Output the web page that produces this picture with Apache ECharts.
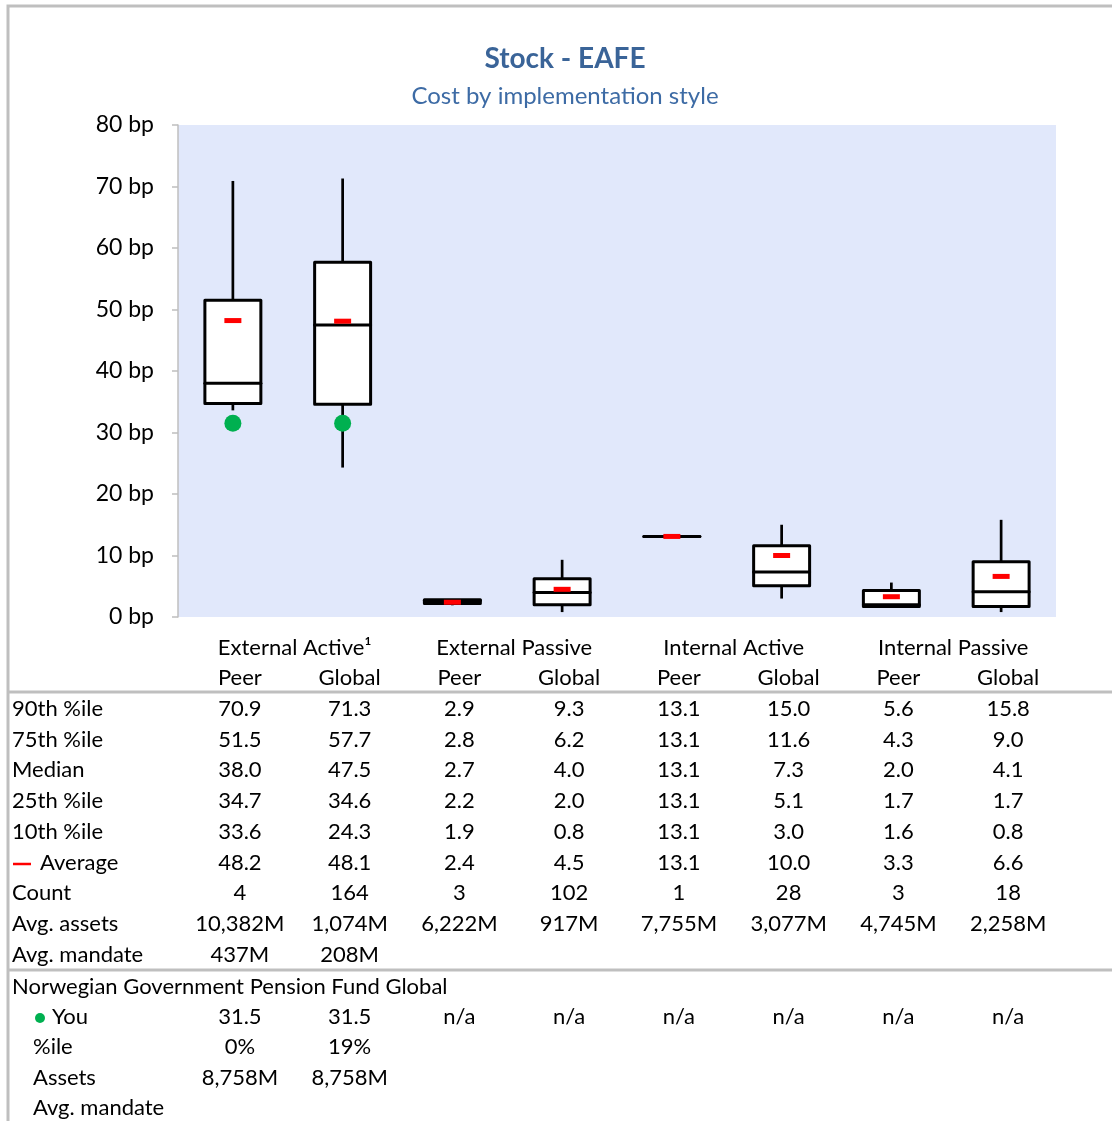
<!DOCTYPE html>
<html><head><meta charset="utf-8">
<script src="https://cdn.jsdelivr.net/npm/echarts@6/dist/echarts.min.js"></script>
<style>html,body{margin:0;padding:0;background:#fff}#c{width:1112px;height:1121px}</style>
</head><body><div id="c"></div>
<script>
// ---- data ----
const groups = ['External Active¹', 'External Passive', 'Internal Active', 'Internal Passive'];
const categories = ['Peer', 'Global', 'Peer', 'Global', 'Peer', 'Global', 'Peer', 'Global'];
const p90 = [70.9, 71.3, 2.9, 9.3, 13.1, 15.0, 5.6, 15.8];
const p75 = [51.5, 57.7, 2.8, 6.2, 13.1, 11.6, 4.3, 9.0];
const median = [38.0, 47.5, 2.7, 4.0, 13.1, 7.3, 2.0, 4.1];
const p25 = [34.7, 34.6, 2.2, 2.0, 13.1, 5.1, 1.7, 1.7];
const p10 = [33.6, 24.3, 1.9, 0.8, 13.1, 3.0, 1.6, 0.8];
const average = [48.2, 48.1, 2.4, 4.5, 13.1, 10.0, 3.3, 6.6];
const count = ['4', '164', '3', '102', '1', '28', '3', '18'];
const avgAssets = ['10,382M', '1,074M', '6,222M', '917M', '7,755M', '3,077M', '4,745M', '2,258M'];
const avgMandate = ['437M', '208M', '', '', '', '', '', ''];
const fundName = 'Norwegian Government Pension Fund Global';
const you = [31.5, 31.5, null, null, null, null, null, null];
const youPctile = ['0%', '19%', '', '', '', '', '', ''];
const youAssets = ['8,758M', '8,758M', '', '', '', '', '', ''];
const yTicks = { min: 0, max: 80, interval: 10, unit: ' bp' };

// ---- chart ----
const FONT = 'Lato';
const chart = echarts.init(document.getElementById('c'), null, { renderer: 'canvas' });

function renderBox(params, api) {
  const i = api.value(0);
  const cx = api.coord([i, 0])[0];
  const bw = api.size([1, 0])[0] * 0.51;
  const y = v => api.coord([i, v])[1];
  const lo = api.value(1), q1 = api.value(2), md = api.value(3), q3 = api.value(4), hi = api.value(5);
  return {
    type: 'group',
    children: [
      { type: 'line', shape: { x1: cx, y1: y(hi), x2: cx, y2: y(q3) }, style: { stroke: '#000', lineWidth: 2.7 } },
      { type: 'line', shape: { x1: cx, y1: y(q1), x2: cx, y2: y(lo) }, style: { stroke: '#000', lineWidth: 2.7 } },
      { type: 'rect', shape: { x: cx - bw / 2, y: y(q3), width: bw, height: y(q1) - y(q3) },
        style: { fill: '#fff', stroke: '#000', lineWidth: 3, lineJoin: 'round' } },
      { type: 'line', shape: { x1: cx - bw / 2, y1: y(md), x2: cx + bw / 2, y2: y(md) },
        style: { stroke: '#000', lineWidth: 3, lineCap: 'round' } }
    ]
  };
}

const option = {
  animation: false,
  backgroundColor: '#fff',
  title: {
    text: 'Stock - EAFE',
    subtext: 'Cost by implementation style',
    left: 560, top: 40, textAlign: 'center', itemGap: 11,
    textStyle: { fontFamily: FONT, fontSize: 28, fontWeight: 'bold', color: '#3A6498' },
    subtextStyle: { fontFamily: FONT, fontSize: 24, color: '#3D6BA5' }
  },
  grid: { left: 178, right: 56, top: 125, bottom: 504, show: true, backgroundColor: '#E1E8FB', borderWidth: 0 },
  xAxis: {
    type: 'category', data: categories,
    axisLine: { show: false }, axisTick: { show: false }, axisLabel: { show: false }, splitLine: { show: false }
  },
  yAxis: {
    type: 'value', min: yTicks.min, max: yTicks.max, interval: yTicks.interval,
    axisLine: { show: true, lineStyle: { color: '#BFBFBF', width: 1.5 } },
    axisTick: { show: true, length: 6, lineStyle: { color: '#BFBFBF', width: 1.5 } },
    splitLine: { show: false },
    axisLabel: { formatter: v => v + yTicks.unit, fontFamily: FONT, fontSize: 23, color: '#000', margin: 24 }
  },
  series: [
    {
      type: 'custom', renderItem: renderBox, z: 2,
      encode: { x: 0, y: [1, 2, 3, 4, 5] },
      data: categories.map((c, i) => [i, p10[i], p25[i], median[i], p75[i], p90[i]])
    },
    {
      type: 'scatter', z: 5, symbol: 'rect', symbolSize: [17, 5],
      itemStyle: { color: '#FF0000', opacity: 1 },
      data: average.map((v, i) => [i, v])
    },
    {
      type: 'scatter', z: 6, symbol: 'circle', symbolSize: 17,
      itemStyle: { color: '#00B050', opacity: 1 },
      data: you.map((v, i) => v == null ? null : [i, v]).filter(d => d)
    }
  ]
};
chart.setOption(option);

// ---- table below the plot ----
const OFF = 7;
const xs = categories.map((c, i) => chart.convertToPixel({ xAxisIndex: 0 }, i) + OFF);
const g = [];
function txt(s, x, y, align) {
  g.push({ type: 'text', x: x, y: y, silent: true,
    style: { text: s, fill: '#000', font: '22px ' + FONT, textAlign: align || 'center', textVerticalAlign: 'middle' } });
}
// frame and separators
g.push({ type: 'rect', shape: { x: 8, y: 6, width: 1200, height: 1200 }, style: { fill: 'none', stroke: '#BFBFBF', lineWidth: 3 } });
[692, 970].forEach(y => g.push({ type: 'line', shape: { x1: 8, y1: y, x2: 1112, y2: y }, style: { stroke: '#BFBFBF', lineWidth: 3 } }));

groups.forEach((gname, k) => txt(gname, (xs[2 * k] + xs[2 * k + 1]) / 2, 648));
categories.forEach((c, i) => txt(c, xs[i], 678));

const rows = [
  ['90th %ile', p90.map(v => v.toFixed(1)), 709],
  ['75th %ile', p75.map(v => v.toFixed(1)), 740],
  ['Median', median.map(v => v.toFixed(1)), 770],
  ['25th %ile', p25.map(v => v.toFixed(1)), 801],
  ['10th %ile', p10.map(v => v.toFixed(1)), 832],
  ['Average', average.map(v => v.toFixed(1)), 863],
  ['Count', count, 893],
  ['Avg. assets', avgAssets, 924],
  ['Avg. mandate', avgMandate, 955]
];
rows.forEach(([lab, vals, y]) => {
  txt(lab, lab === 'Average' ? 40 : 12, y, 'left');
  vals.forEach((v, i) => { if (v !== '') txt(v, xs[i], y); });
});
g.push({ type: 'line', shape: { x1: 13, y1: 864, x2: 31, y2: 864 }, style: { stroke: '#FF0000', lineWidth: 2.5 } });

txt(fundName, 12, 987, 'left');
const youRows = [
  ['You', you.map(v => v == null ? 'n/a' : v.toFixed(1)), 1017, 52],
  ['%ile', youPctile, 1047, 33],
  ['Assets', youAssets, 1078, 33],
  ['Avg. mandate', ['', '', '', '', '', '', '', ''], 1108, 33]
];
youRows.forEach(([lab, vals, y, lx]) => {
  txt(lab, lx, y, 'left');
  vals.forEach((v, i) => { if (v !== '') txt(v, xs[i], y); });
});
g.push({ type: 'circle', shape: { cx: 40, cy: 1018, r: 5 }, style: { fill: '#00B050' } });

chart.setOption({ graphic: g });
</script>
</body></html>
